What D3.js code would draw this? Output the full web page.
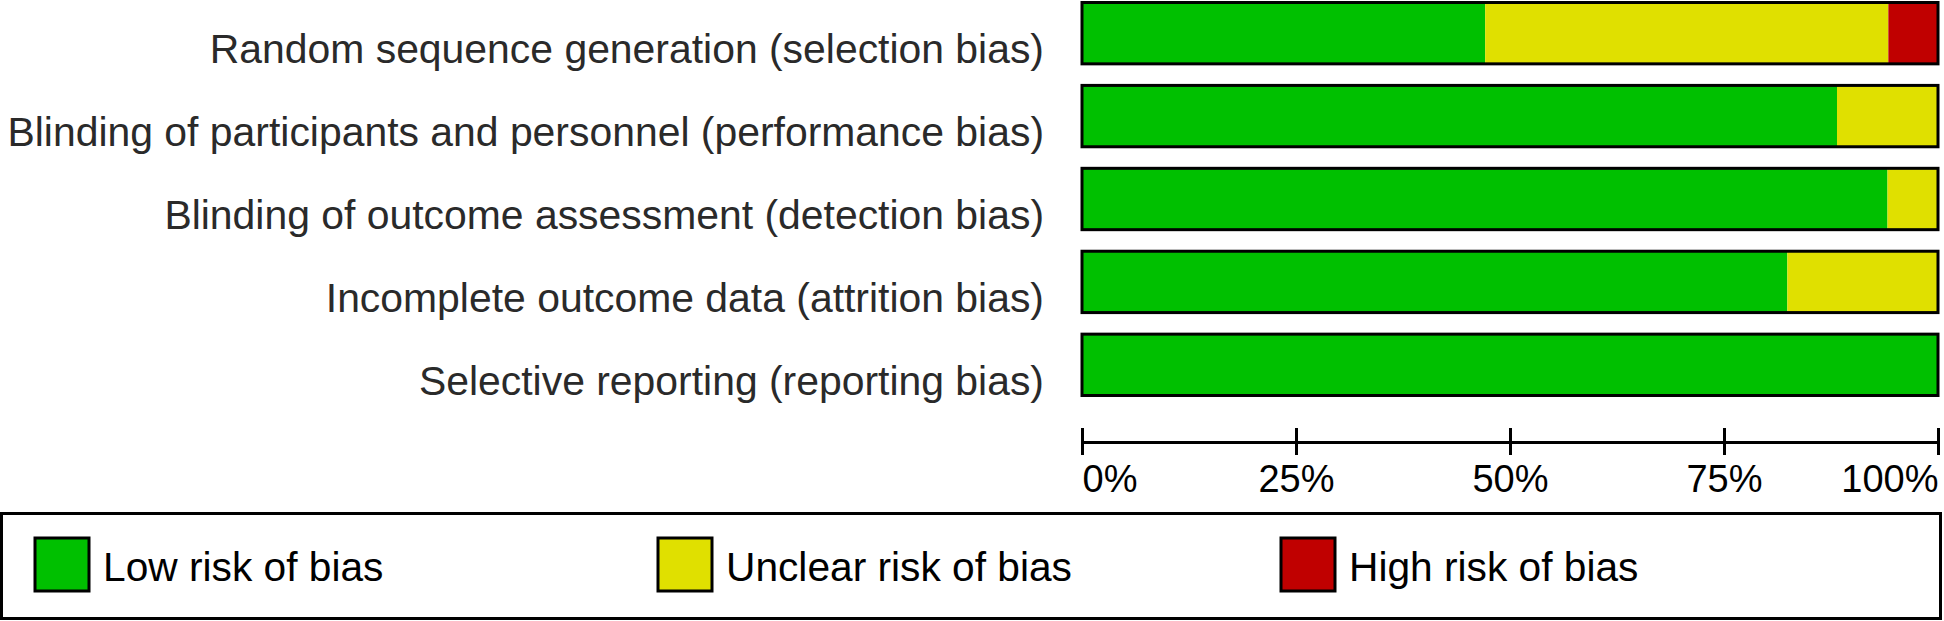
<html lang="en">
<head>
    <meta charset="utf-8">
    <title>Risk of bias</title>
    <script type="text/javascript" src="https://cdn.jsdelivr.net/npm/d3@7"></script>
    <style>
        body { margin: 0; background: #fff; }
        text { font-family: "Liberation Sans", Arial, sans-serif; }
    </style>
</head>
<body>
<script type="text/javascript">
    var domains = ["Random sequence generation (selection bias)",
        "Blinding of participants and personnel (performance bias)",
        "Blinding of outcome assessment (detection bias)",
        "Incomplete outcome data (attrition bias)",
        "Selective reporting (reporting bias)"];
    var lowRisk = [47.1, 88.2, 94.1, 82.4, 100];
    var unclearRisk = [47.1, 11.8, 5.9, 17.6, 0];
    var highRisk = [5.8, 0, 0, 0, 0];
    var tickValues = [0, 25, 50, 75, 100];
    var legendLabels = ["Low risk of bias", "Unclear risk of bias", "High risk of bias"];
    var colors = ["#00c000", "#e0e000", "#c00000"];

    var width = 1944, height = 621;
    var svg = d3.select("body").append("svg").attr("width", width).attr("height", height);

    var x = d3.scaleLinear().domain([0, 100]).range([1082, 1938]);
    var y = d3.scaleBand().domain(domains).range([2.5, 395.5]).paddingInner(0.26).paddingOuter(0);

    var rows = domains.map(function (d, i) {
        return { name: d, values: [lowRisk[i], unclearRisk[i], highRisk[i]] };
    });

    var row = svg.selectAll("g.row").data(rows).enter().append("g").attr("class", "row");
    row.each(function (d) {
        var g = d3.select(this);
        var start = 0;
        d.values.forEach(function (v, k) {
            if (v > 0) {
                g.append("rect").attr("x", x(start)).attr("y", y(d.name))
                    .attr("width", x(start + v) - x(start)).attr("height", y.bandwidth())
                    .attr("fill", colors[k]);
            }
            start += v;
        });
        g.append("rect").attr("x", x(0)).attr("y", y(d.name))
            .attr("width", x(100) - x(0)).attr("height", y.bandwidth())
            .attr("fill", "none").attr("stroke", "#000").attr("stroke-width", 3);
        g.append("text").text(d.name).attr("x", 1044)
            .attr("y", y(d.name) + y.bandwidth() / 2 + 16).attr("dy", "0.35em")
            .attr("text-anchor", "end").attr("font-size", "40.9px").attr("fill", "#2a2a2a");
    });

    var xAxis = d3.axisBottom(x).tickValues(tickValues).tickSizeOuter(0)
        .tickFormat(function (d) { return d + "%" });
    var axis = svg.append("g").attr("transform", "translate(0,442)").call(xAxis);
    axis.select(".domain").attr("stroke-width", 3);
    axis.selectAll(".tick line").attr("y1", -14).attr("y2", 13).attr("stroke-width", 3);
    axis.selectAll(".tick text").attr("y", 50).attr("dy", 0).attr("fill", "#000")
        .style("font-family", "'Liberation Sans Narrow', 'Liberation Sans', sans-serif")
        .attr("font-size", "38px")
        .attr("text-anchor", function (d, i) { return i == 0 ? "start" : (i == tickValues.length - 1 ? "end" : "middle") });

    var legend = svg.append("g");
    legend.append("rect").attr("x", 1.5).attr("y", 513.5).attr("width", 1939).attr("height", 105)
        .attr("fill", "none").attr("stroke", "#000").attr("stroke-width", 3);
    var item = legend.selectAll("g.item").data(legendLabels).enter().append("g")
        .attr("transform", function (d, i) { return "translate(" + (35 + i * 623) + ",538)" });
    item.append("rect").attr("width", 54).attr("height", 53)
        .attr("fill", function (d, i) { return colors[i] }).attr("stroke", "#000").attr("stroke-width", 3);
    item.append("text").text(function (d) { return d }).attr("x", 68).attr("y", 43)
        .attr("font-size", "40.7px").attr("fill", "#000");
</script>
</body>
</html>
